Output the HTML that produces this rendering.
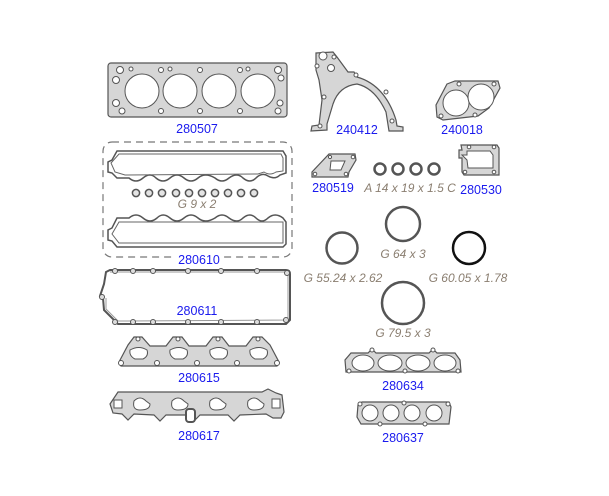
<!DOCTYPE html>
<html><head><meta charset="utf-8"><style>
html,body{margin:0;padding:0;background:#fff;}
svg{display:block}
.g{fill:#d6d6d6;stroke:#555;stroke-width:1.2}
.h{fill:#fff;stroke:#555;stroke-width:1}
.r{fill:none;stroke:#555;stroke-width:2.5}
.l{font-family:"Liberation Sans",sans-serif;font-size:12.5px;fill:#1a1aee;text-anchor:middle}
.i{font-family:"Liberation Sans",sans-serif;font-size:12px;font-style:italic;fill:#8a7e70;text-anchor:middle}
</style></head><body>
<svg width="609" height="496" viewBox="0 0 609 496" xmlns="http://www.w3.org/2000/svg">
<rect class="g" x="108" y="63" width="179" height="54" rx="3"/>
<circle class="h" cx="142" cy="91" r="17"/><circle class="h" cx="180" cy="91" r="17"/>
<circle class="h" cx="219" cy="91" r="17"/><circle class="h" cx="258" cy="91" r="17"/>
<g class="h">
<circle cx="120" cy="70" r="3.5"/><circle cx="116" cy="80" r="3.5"/><circle cx="116" cy="103" r="3.5"/><circle cx="122" cy="111" r="3"/>
<circle cx="161" cy="70" r="2.5"/><circle cx="200" cy="70" r="2.5"/><circle cx="240" cy="70" r="2.5"/>
<circle cx="161" cy="111" r="2.5"/><circle cx="200" cy="111" r="2.5"/><circle cx="240" cy="111" r="2.5"/>
<circle cx="278" cy="70" r="3.5"/><circle cx="281" cy="78" r="3"/><circle cx="280" cy="103" r="3"/><circle cx="278" cy="111" r="3"/>
<circle cx="131" cy="69" r="2"/><circle cx="170" cy="69" r="2"/><circle cx="248" cy="69" r="2"/>
</g>
<text class="l" x="197" y="133">280507</text>
<rect x="103" y="142" width="189" height="115" rx="9" fill="none" stroke="#777" stroke-width="1.2" stroke-dasharray="7,5"/>
<path d="M117 151 L283 151 L286 156 L286 173 L280 175 Q275 180 268 176 Q262 172 256 178 Q250 184 243 178 Q237 172 229 178 Q222 184 215 178 Q205 172 198 178 Q191 184 184 178 Q177 172 170 178 Q163 184 156 178 Q150 172 143 178 Q136 184 129 178 L117 178 L112 173 L108 172 L108 162 L112 160 Z" fill="#fff" stroke="#555" stroke-width="1.5"/>
<path d="M119 154 L281 154 L283 158 L283 171 L276 172 Q270 176 264 172 L258 174 L125 175 L115 172 L111 163 Z" fill="none" stroke="#666" stroke-width="1"/>
<g fill="#e4e4e4" stroke="#555" stroke-width="1.5">
<circle cx="136" cy="193" r="3.6"/><circle cx="149" cy="193" r="3.6"/><circle cx="162" cy="193" r="3.6"/><circle cx="176" cy="193" r="3.6"/><circle cx="189" cy="193" r="3.6"/><circle cx="202" cy="193" r="3.6"/><circle cx="215" cy="193" r="3.6"/><circle cx="228" cy="193" r="3.6"/><circle cx="241" cy="193" r="3.6"/><circle cx="254" cy="193" r="3.6"/></g>
<text class="i" x="197" y="208">G 9 x 2</text>
<path fill="#fff" stroke="#555" stroke-width="1.5" d="M117 218 L129 218 Q136 212 143 218 Q150 224 157 218 Q163 212 170 218 Q177 224 184 218 Q191 212 198 218 Q205 224 215 218 Q222 212 229 218 Q237 224 243 218 Q250 212 256 218 Q262 224 268 218 Q275 212 283 218 L286 222 L286 244 L283 247 L117 247 L112 241 L108 240 L108 230 L112 228 Z"/>
<path d="M119 222 L283 222 L283 243 L119 243 L112 234 Z" fill="none" stroke="#666" stroke-width="1"/>
<rect x="176" y="255" width="46" height="12" fill="#fff"/>
<text class="l" x="199" y="264">280610</text>
<path d="M110 270 L286 270 Q290 270 290 274 L290 320 L286 324 L118 324 L104 310 L103 298 L100 296 L104 284 L106 272 Z" fill="none" stroke="#555" stroke-width="2"/>
<path d="M110 272 L285 272 L288 275 L288 320 L118 321 L106 309 L106 298" fill="none" stroke="#999" stroke-width="1"/>
<g fill="#ddd" stroke="#555" stroke-width="1">
<circle cx="115" cy="271" r="2.5"/><circle cx="133" cy="271" r="2.5"/><circle cx="153" cy="271" r="2.5"/><circle cx="188" cy="271" r="2.5"/><circle cx="221" cy="271" r="2.5"/><circle cx="257" cy="271" r="2.5"/><circle cx="287" cy="273" r="2.5"/>
<circle cx="102" cy="297" r="2.5"/><circle cx="115" cy="322" r="2.5"/><circle cx="133" cy="322" r="2.5"/><circle cx="153" cy="322" r="2.5"/><circle cx="188" cy="322" r="2.5"/><circle cx="221" cy="322" r="2.5"/><circle cx="257" cy="322" r="2.5"/><circle cx="286" cy="320" r="2.5"/></g>
<text class="l" x="197" y="315">280611</text>
<path class="g" d="M119 362 L128 345 L134 337 L142 337 L150 346 L166 346 L173 337 L182 337 L189 346 L206 346 L213 337 L222 337 L229 346 L246 346 L253 337 L262 337 L270 345 L279 362 L277 366 L121 366 Z"/>
<g class="h"><path d="M130 350 Q139 345 147 350 Q149 356 143 359 L135 359 Q129 356 130 350 Z"/><path d="M170 350 Q179 345 187 350 Q189 356 183 359 L175 359 Q169 356 170 350 Z"/><path d="M210 350 Q219 345 227 350 Q229 356 223 359 L215 359 Q209 356 210 350 Z"/><path d="M250 350 Q259 345 267 350 Q269 356 263 359 L255 359 Q249 356 250 350 Z"/>
<circle cx="121" cy="363" r="2.5"/><circle cx="157" cy="363" r="2.5"/><circle cx="197" cy="363" r="2.5"/><circle cx="237" cy="363" r="2.5"/><circle cx="277" cy="363" r="2.5"/><circle cx="138" cy="339" r="2"/><circle cx="178" cy="339" r="2"/><circle cx="218" cy="339" r="2"/><circle cx="258" cy="339" r="2"/></g>
<text class="l" x="199" y="382">280615</text>
<path class="g" d="M118 392 L262 392 L268 389 L276 393 L282 395 L284 412 L281 418 L273 418 L266 414 L240 415 L234 421 L228 415 L200 415 L194 421 L188 415 L166 415 L160 421 L154 415 L134 414 L128 420 L122 414 L113 413 L110 404 Z"/>
<g class="h"><path d="M134 401 Q140 395 146 401 L150 404 Q150 410 140 410 Q132 410 134 401 Z"/><path d="M172 401 Q178 395 184 401 L188 404 Q188 410 178 410 Q170 410 172 401 Z"/><path d="M210 401 Q216 395 222 401 L226 404 Q226 410 216 410 Q208 410 210 401 Z"/><path d="M248 401 Q254 395 260 401 L264 404 Q264 410 254 410 Q246 410 248 401 Z"/>
<rect x="114" y="400" width="8" height="8"/><rect x="272" y="399" width="8" height="9"/>
<rect x="186" y="409" width="9" height="13" rx="3" stroke-width="2"/></g>
<text class="l" x="199" y="440">280617</text>
<path class="g" d="M316 53 L333 52 L337 57 L348 72 L354 72 L357 77 Q385 85 396 120 L397 126 L403 127 L403 131 L389 131 L386 112 Q375 88 357 84 Q339 86 333 104 L327 124 L327 130 L311 131 L312 126 L319 125 L322 100 L319 80 L316 70 Z"/>
<g class="h"><circle cx="323" cy="56" r="4"/><circle cx="331" cy="68" r="3.5"/><circle cx="334" cy="57" r="2"/><circle cx="317" cy="66" r="2"/><circle cx="356" cy="75" r="2"/><circle cx="324" cy="97" r="2"/><circle cx="386" cy="92" r="2"/><circle cx="320" cy="126" r="2"/><circle cx="392" cy="121" r="2"/></g>
<text class="l" x="357" y="134">240412</text>
<path class="g" d="M447 84 L455 81 L498 81 L500 88 L489 108 L478 116 L443 120 L437 117 L436 105 Z"/>
<g class="h"><circle cx="456" cy="103" r="13"/><circle cx="481" cy="97" r="13"/><circle cx="459" cy="84" r="2"/><circle cx="494" cy="84" r="2"/><circle cx="441" cy="116" r="2"/><circle cx="475" cy="115" r="2"/></g>
<text class="l" x="462" y="134">240018</text>
<path class="g" d="M329 154 L355 154 L356 160 L349 172 L348 177 L312 177 L312 172 Z"/>
<path class="h" d="M331 161 L345 161 L341 170 L330 170 Z"/>
<g class="h"><circle cx="315" cy="174" r="1.8"/><circle cx="346" cy="174" r="1.8"/><circle cx="353" cy="157" r="1.8"/><circle cx="330" cy="157" r="1.6"/></g>
<text class="l" x="333" y="192">280519</text>
<g fill="none" stroke="#555" stroke-width="2.5"><circle cx="380" cy="169" r="5.5"/><circle cx="398" cy="169" r="5.5"/><circle cx="416" cy="169" r="5.5"/><circle cx="434" cy="169" r="5.5"/></g>
<text class="i" x="410" y="192">A 14 x 19 x 1.5 C</text>
<path class="g" d="M461 145 L497 145 L499 148 L499 175 L464 175 L462 172 L462 158 L459 158 L459 150 L462 150 Z"/>
<path class="h" d="M467 151 L490 151 L493 155 L493 168 L468 168 L467 160 L462 155 L467 155 Z"/>
<g class="h"><circle cx="469" cy="147" r="1.8"/><circle cx="494" cy="147" r="1.8"/><circle cx="465" cy="172" r="1.8"/><circle cx="494" cy="172" r="1.8"/></g>
<text class="l" x="481" y="194">280530</text>
<circle class="r" cx="403" cy="224" r="17"/>
<text class="i" x="403" y="258">G 64 x 3</text>
<circle class="r" cx="342" cy="248" r="15.5"/>
<text class="i" x="343" y="282">G 55.24 x 2.62</text>
<circle cx="469" cy="248" r="16" fill="none" stroke="#111" stroke-width="2.5"/>
<text class="i" x="468" y="282">G 60.05 x 1.78</text>
<circle class="r" cx="403" cy="303" r="21"/>
<text class="i" x="403" y="337">G 79.5 x 3</text>
<path class="g" d="M351 353 L368 353 L372 349 L376 353 L429 353 L433 349 L437 353 L455 353 L460 360 L461 372 L346 372 L345 360 Z"/>
<g class="h"><ellipse cx="363" cy="363" rx="11" ry="8"/><ellipse cx="390" cy="363" rx="12" ry="8"/><ellipse cx="418" cy="363" rx="12" ry="8"/><ellipse cx="445" cy="363" rx="11" ry="8"/>
<circle cx="349" cy="371" r="2"/><circle cx="405" cy="371" r="2"/><circle cx="458" cy="371" r="2"/><circle cx="372" cy="350" r="2"/><circle cx="433" cy="350" r="2"/></g>
<text class="l" x="403" y="390">280634</text>
<path class="g" d="M358 405 L362 402 L449 402 L451 407 L449 424 L361 424 L357 417 Z"/>
<g class="h"><circle cx="370" cy="413" r="8"/><circle cx="391" cy="413" r="8"/><circle cx="412" cy="413" r="8"/><circle cx="434" cy="413" r="8"/>
<circle cx="360" cy="404" r="2"/><circle cx="404" cy="403" r="2"/><circle cx="448" cy="404" r="2"/><circle cx="380" cy="424" r="2"/><circle cx="425" cy="424" r="2"/></g>
<text class="l" x="403" y="442">280637</text>
</svg>
</body></html>
